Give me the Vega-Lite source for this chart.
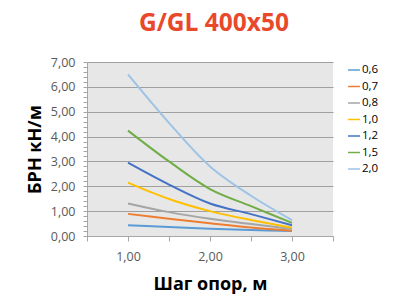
{
  "$schema": "https://vega.github.io/schema/vega-lite/v6.json",
  "autosize": {"type": "none"},
  "width": 246,
  "height": 174,
  "padding": {"left": 87, "top": 62, "right": 81, "bottom": 67},
  "background": "white",
  "title": {
    "text": "G/GL 400x50",
    "color": "#E8492A",
    "font": "Open Sans",
    "fontSize": 24.5,
    "fontWeight": "bold",
    "anchor": "middle",
    "frame": "group",
    "offset": 20,
    "dx": 4
  },
  "config": {
    "view": {"fill": "#E7E7E7", "stroke": null},
    "font": "Open Sans"
  },
  "data": {
    "values": [
      {"s": "0,6", "x": 1.0, "y": 0.43}, {"s": "0,6", "x": 1.5, "y": 0.36}, {"s": "0,6", "x": 2.0, "y": 0.29}, {"s": "0,6", "x": 2.5, "y": 0.24}, {"s": "0,6", "x": 3.0, "y": 0.2},
      {"s": "0,7", "x": 1.0, "y": 0.89}, {"s": "0,7", "x": 1.5, "y": 0.69}, {"s": "0,7", "x": 2.0, "y": 0.51}, {"s": "0,7", "x": 2.5, "y": 0.34}, {"s": "0,7", "x": 3.0, "y": 0.21},
      {"s": "0,8", "x": 1.0, "y": 1.31}, {"s": "0,8", "x": 1.5, "y": 0.96}, {"s": "0,8", "x": 2.0, "y": 0.69}, {"s": "0,8", "x": 2.5, "y": 0.48}, {"s": "0,8", "x": 3.0, "y": 0.28},
      {"s": "1,0", "x": 1.0, "y": 2.15}, {"s": "1,0", "x": 1.5, "y": 1.49}, {"s": "1,0", "x": 2.0, "y": 1.0}, {"s": "1,0", "x": 2.5, "y": 0.64}, {"s": "1,0", "x": 3.0, "y": 0.33},
      {"s": "1,2", "x": 1.0, "y": 2.95}, {"s": "1,2", "x": 1.5, "y": 2.07}, {"s": "1,2", "x": 2.0, "y": 1.31}, {"s": "1,2", "x": 2.5, "y": 0.88}, {"s": "1,2", "x": 3.0, "y": 0.43},
      {"s": "1,5", "x": 1.0, "y": 4.24}, {"s": "1,5", "x": 1.5, "y": 3.0}, {"s": "1,5", "x": 2.0, "y": 1.89}, {"s": "1,5", "x": 2.5, "y": 1.2}, {"s": "1,5", "x": 3.0, "y": 0.53},
      {"s": "2,0", "x": 1.0, "y": 6.5}, {"s": "2,0", "x": 1.5, "y": 4.55}, {"s": "2,0", "x": 2.0, "y": 2.8}, {"s": "2,0", "x": 2.5, "y": 1.62}, {"s": "2,0", "x": 3.0, "y": 0.64}
    ]
  },
  "mark": {"type": "line", "interpolate": "catmull-rom", "strokeWidth": 2},
  "encoding": {
    "x": {
      "field": "x",
      "type": "quantitative",
      "scale": {"domain": [0.5, 3.5], "nice": false, "zero": false},
      "axis": {
        "values": [0.5, 1, 1.5, 2, 2.5, 3, 3.5],
        "labelExpr": "datum.value % 1 === 0 ? replace(format(datum.value, '.2f'), '.', ',') : ''",
        "grid": false,
        "domainColor": "#A6A6A6",
        "tickColor": "#A6A6A6",
        "tickSize": 5,
        "labelColor": "#595959",
        "labelFontSize": 12.5,
        "labelPadding": 9,
        "title": "Шаг опор, м",
        "titleFontSize": 18,
        "titleFontWeight": "bold",
        "titleColor": "#000000",
        "titlePadding": 13
      }
    },
    "y": {
      "field": "y",
      "type": "quantitative",
      "scale": {"domain": [0, 7], "nice": false},
      "axis": {
        "values": [0, 0.2, 0.4, 0.6, 0.8, 1, 1.2, 1.4, 1.6, 1.8, 2, 2.2, 2.4, 2.6, 2.8, 3, 3.2, 3.4, 3.6, 3.8, 4, 4.2, 4.4, 4.6, 4.8, 5, 5.2, 5.4, 5.6, 5.8, 6, 6.2, 6.4, 6.6, 6.8, 7],
        "labelExpr": "abs(datum.value - round(datum.value)) < 0.001 ? replace(format(datum.value, '.2f'), '.', ',') : ''",
        "grid": true,
        "gridColor": "#A0A0A0",
        "gridOpacity": {"condition": {"test": "abs(datum.value - round(datum.value)) < 0.001", "value": 1}, "value": 0},
        "domainColor": "#A6A6A6",
        "tickColor": "#A6A6A6",
        "tickSize": 4,
        "labelColor": "#595959",
        "labelFontSize": 12.5,
        "labelPadding": 8,
        "title": "БРН кН/м",
        "titleFontSize": 18,
        "titleFontWeight": "bold",
        "titleColor": "#000000",
        "titlePadding": 6
      }
    },
    "color": {
      "field": "s",
      "type": "nominal",
      "scale": {
        "domain": ["0,6", "0,7", "0,8", "1,0", "1,2", "1,5", "2,0"],
        "range": ["#5B9BD5", "#ED7D31", "#A5A5A5", "#FFC000", "#4472C4", "#70AD47", "#9DC3E6"]
      },
      "legend": {
        "title": null,
        "orient": "none",
        "legendX": 260,
        "legendY": 1,
        "symbolType": "stroke",
        "symbolSize": 140,
        "symbolStrokeWidth": 1.5,
        "labelFontSize": 11.5,
        "labelColor": "#000000",
        "labelOffset": 1,
        "rowPadding": 3.5
      }
    }
  }
}
